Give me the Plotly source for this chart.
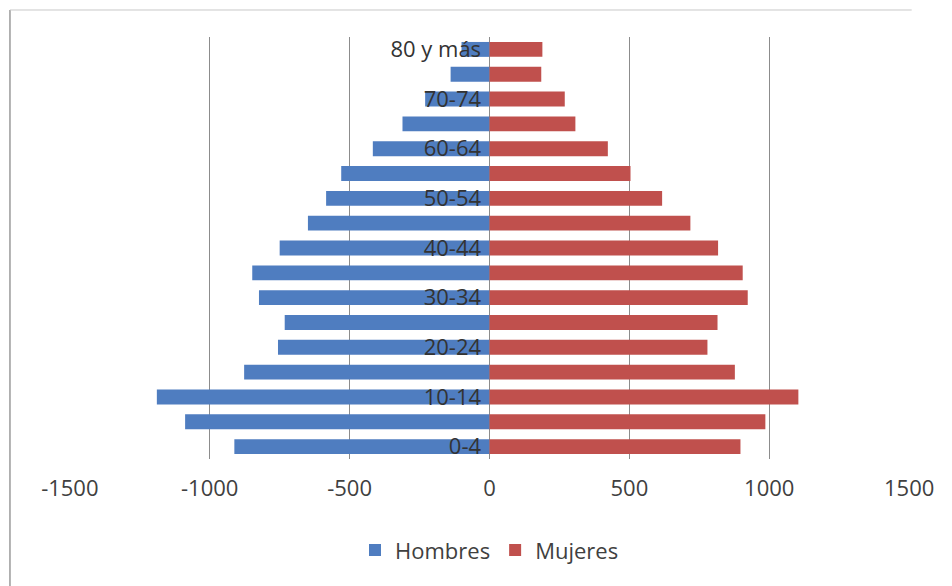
import plotly.graph_objects as go

categories = ["0-4", "5-9", "10-14", "15-19", "20-24", "25-29", "30-34", "35-39",
              "40-44", "45-49", "50-54", "55-59", "60-64", "65-69", "70-74", "75-79", "80 y más"]
hombres = [-912, -1088, -1189, -877, -756, -732, -824, -848,
           -750, -649, -584, -530, -417, -311, -230, -139, -100]
mujeres = [897, 986, 1104, 877, 779, 815, 923, 905,
           817, 718, 617, 504, 423, 307, 269, 185, 189]
shown_labels = categories[::2]
x_ticks = [-1500, -1000, -500, 0, 500, 1000, 1500]

FONT = "Open Sans"

fig = go.Figure()
fig.add_trace(go.Bar(y=categories, x=hombres, orientation="h", name="Hombres",
                     marker=dict(color="#4F7DC0", line=dict(width=0))))
fig.add_trace(go.Bar(y=categories, x=mujeres, orientation="h", name="Mujeres",
                     marker=dict(color="#C0504D", line=dict(width=0))))

fig.update_layout(
    width=952, height=586,
    margin=dict(l=61, r=50, t=29, b=135, autoexpand=False),
    paper_bgcolor="white", plot_bgcolor="white",
    barmode="relative", bargap=0.4,
    font=dict(family=FONT, size=22, color="#404040"),
    showlegend=True,
    legend=dict(orientation="h", x=0.5, xanchor="center", y=-0.216, yanchor="middle",
                font=dict(family=FONT, size=22, color="#404040"),
                itemwidth=30, traceorder="normal"),
    xaxis=dict(range=[-1503, 1503], tickvals=x_ticks, ticktext=[str(v) for v in x_ticks],
               showgrid=True, gridcolor="#8c8c8c", gridwidth=1,
               zeroline=True, zerolinecolor="#8c8c8c", zerolinewidth=1,
               showline=False, ticks="outside", ticklen=10, tickcolor="rgba(0,0,0,0)",
               automargin=False,
               tickfont=dict(family=FONT, size=22, color="#404040"), fixedrange=True),
    yaxis=dict(type="category", categoryorder="array", categoryarray=categories,
               tickvals=shown_labels, ticktext=shown_labels,
               anchor="free", position=0.5, side="left",
               showgrid=False, zeroline=False, showline=False,
               ticks="outside", ticklen=4, tickcolor="rgba(0,0,0,0)",
               automargin=False,
               tickfont=dict(family=FONT, size=22, color="#333333"),
               range=[-0.5, len(categories) - 0.5], fixedrange=True),
    shapes=[
        dict(type="line", xref="paper", yref="paper", x0=-0.0702, x1=-0.0702, y0=1.064, y1=-0.35,
             line=dict(color="#9a9a9a", width=1.5)),
        dict(type="line", xref="paper", yref="paper", x0=-0.0702, x1=1.002, y0=1.064, y1=1.064,
             line=dict(color="#c8c8c8", width=1)),
    ],
)

fig.write_html("out.html")
